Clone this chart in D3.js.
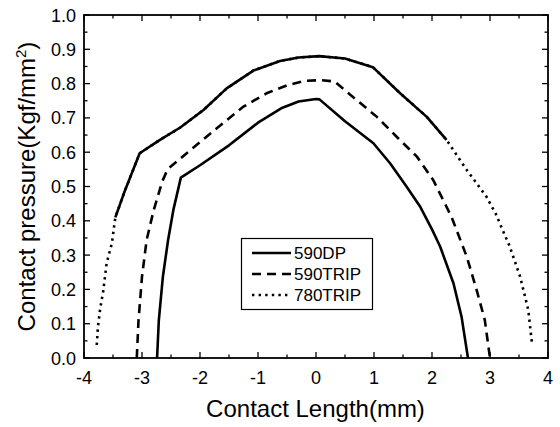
<!DOCTYPE html>
<html>
<head>
<meta charset="utf-8">
<script src="https://cdn.jsdelivr.net/npm/d3@7"></script>
<style>
  html, body { margin: 0; padding: 0; background: #fff; }
  svg { display: block; font-family: "Liberation Sans", Arial, sans-serif; }
</style>
</head>
<body>
<svg id="chart" width="560" height="427"></svg>
<script>
// Contact pressure profiles along the contact length, one series per steel grade.
const seriesNames = ["590DP", "590TRIP", "780TRIP"];

const dp590 = [
  [-2.74, 0], [-2.71, 0.11], [-2.64, 0.237], [-2.55, 0.344], [-2.46, 0.431],
  [-2.33, 0.526], [-2.0, 0.562], [-1.5, 0.62], [-1.0, 0.686], [-0.6, 0.728],
  [-0.3, 0.748], [0.0, 0.755], [0.06, 0.754], [0.5, 0.69], [0.99, 0.626],
  [1.28, 0.567], [1.56, 0.5], [1.8, 0.44], [2.0, 0.375], [2.14, 0.325],
  [2.37, 0.218], [2.51, 0.12], [2.62, 0]
];

const trip590 = [
  [-3.09, 0], [-3.06, 0.11], [-3.0, 0.237], [-2.92, 0.344], [-2.8, 0.43],
  [-2.65, 0.515], [-2.56, 0.55], [-2.23, 0.597], [-1.71, 0.67], [-1.25, 0.733],
  [-0.85, 0.772], [-0.5, 0.795], [-0.2, 0.808], [0.1, 0.81], [0.32, 0.806],
  [0.7, 0.752], [1.05, 0.703], [1.39, 0.645], [1.74, 0.587], [2.02, 0.519],
  [2.25, 0.441], [2.34, 0.41], [2.6, 0.295], [2.77, 0.198], [2.91, 0.111], [3.0, 0]
];

const trip780 = [
  [-3.78, 0.038], [-3.76, 0.091], [-3.72, 0.145], [-3.67, 0.193], [-3.61, 0.276],
  [-3.52, 0.334], [-3.46, 0.41], [-3.29, 0.49], [-3.04, 0.597], [-2.69, 0.636],
  [-2.34, 0.672], [-1.94, 0.723], [-1.54, 0.786], [-1.08, 0.838], [-0.62, 0.866],
  [-0.3, 0.876], [0.05, 0.88], [0.5, 0.873], [0.98, 0.848], [1.45, 0.772],
  [1.91, 0.703], [2.25, 0.636], [2.6, 0.548], [2.94, 0.47], [3.1, 0.42],
  [3.34, 0.325], [3.52, 0.237], [3.66, 0.14], [3.72, 0.048]
];

const xTicks = [-4, -3, -2, -1, 0, 1, 2, 3, 4];
const yTicks = [0.0, 0.1, 0.2, 0.3, 0.4, 0.5, 0.6, 0.7, 0.8, 0.9, 1.0];

const svg = d3.select("#chart");
const plotLeft = 84, plotRight = 548, plotTop = 15, plotBottom = 358;

const x = d3.scaleLinear().domain([-4, 4]).range([plotLeft, plotRight]);
const y = d3.scaleLinear().domain([0, 1.0]).range([plotBottom, plotTop]);

svg.append("clipPath").attr("id", "plotClip")
  .append("rect").attr("x", plotLeft).attr("y", plotTop)
  .attr("width", plotRight - plotLeft).attr("height", plotBottom - plotTop);

const line = d3.line().x(d => x(d[0])).y(d => y(d[1])).curve(d3.curveLinear);

const curves = svg.append("g").attr("clip-path", "url(#plotClip)");

// 590DP: solid
curves.append("path").datum(dp590)
  .attr("d", line).attr("fill", "none").attr("stroke", "#000")
  .attr("stroke-width", 2.6).attr("stroke-linejoin", "round");

// 590TRIP: dashed
curves.append("path").datum(trip590)
  .attr("d", line).attr("fill", "none").attr("stroke", "#000")
  .attr("stroke-width", 2.6).attr("stroke-dasharray", "9,6");

// 780TRIP: dotted; densely sampled middle part renders as a continuous stroke
curves.append("path").datum(trip780)
  .attr("d", line).attr("fill", "none").attr("stroke", "#000")
  .attr("stroke-width", 2.6).attr("stroke-dasharray", "2.4,4.2");
const denseStart = 6, denseEnd = 21;
curves.append("path").datum(trip780.slice(denseStart, denseEnd + 1))
  .attr("d", line).attr("fill", "none").attr("stroke", "#000")
  .attr("stroke-width", 2.6).attr("stroke-linejoin", "round");

// Axes with inward ticks on all four sides
const frame = svg.append("g");
const majorLen = 6, minorLen = 3.5;
const xMinor = d3.range(-3.5, 4, 1);
const yMinor = d3.range(0.05, 1.0, 0.1);

function xTickSet(values, len) {
  values.forEach(v => {
    frame.append("line").attr("x1", x(v)).attr("x2", x(v))
      .attr("y1", plotBottom).attr("y2", plotBottom - len);
    frame.append("line").attr("x1", x(v)).attr("x2", x(v))
      .attr("y1", plotTop).attr("y2", plotTop + len);
  });
}
function yTickSet(values, len) {
  values.forEach(v => {
    frame.append("line").attr("y1", y(v)).attr("y2", y(v))
      .attr("x1", plotLeft).attr("x2", plotLeft + len);
    frame.append("line").attr("y1", y(v)).attr("y2", y(v))
      .attr("x1", plotRight).attr("x2", plotRight - len);
  });
}
xTickSet(xTicks, majorLen);
xTickSet(xMinor, minorLen);
yTickSet(yTicks, majorLen);
yTickSet(yMinor, minorLen);
frame.selectAll("line").attr("stroke", "#000").attr("stroke-width", 1.3);

frame.append("rect").attr("x", plotLeft).attr("y", plotTop)
  .attr("width", plotRight - plotLeft).attr("height", plotBottom - plotTop)
  .attr("fill", "none").attr("stroke", "#000").attr("stroke-width", 1.8);

// Tick labels
svg.append("g").selectAll("text").data(xTicks).join("text")
  .attr("x", d => x(d)).attr("y", 383.5)
  .attr("text-anchor", "middle").attr("font-size", 18)
  .text(d => d);

svg.append("g").selectAll("text").data(yTicks).join("text")
  .attr("x", 76).attr("y", d => y(d) + 6.5)
  .attr("text-anchor", "end").attr("font-size", 18)
  .text(d => d3.format(".1f")(d));

// Axis titles
svg.append("text").attr("x", (plotLeft + plotRight) / 2 - 0.5).attr("y", 417)
  .attr("text-anchor", "middle").attr("font-size", 24)
  .text("Contact Length(mm)");

const yTitle = svg.append("text")
  .attr("transform", `translate(35,${(plotTop + plotBottom) / 2}) rotate(-90)`)
  .attr("text-anchor", "middle").attr("font-size", 24);
yTitle.append("tspan").text("Contact pressure(Kgf/mm");
yTitle.append("tspan").attr("font-size", 15).attr("dy", -9).text("2");
yTitle.append("tspan").attr("dy", 9).text(")");

// Legend
const legend = svg.append("g");
legend.append("rect").attr("x", 241.5).attr("y", 238.5)
  .attr("width", 131).attr("height", 71)
  .attr("fill", "#fff").attr("stroke", "#000").attr("stroke-width", 1.2);
const dashes = [null, "9,6", "2.4,4.2"];
const rowY = [253, 274, 295];
seriesNames.forEach((name, i) => {
  legend.append("line").attr("x1", 252).attr("x2", 291)
    .attr("y1", rowY[i]).attr("y2", rowY[i])
    .attr("stroke", "#000").attr("stroke-width", 2.6)
    .attr("stroke-dasharray", dashes[i]);
  legend.append("text").attr("x", 294).attr("y", rowY[i] + 6)
    .attr("font-size", 17).text(name);
});
</script>
</body>
</html>
